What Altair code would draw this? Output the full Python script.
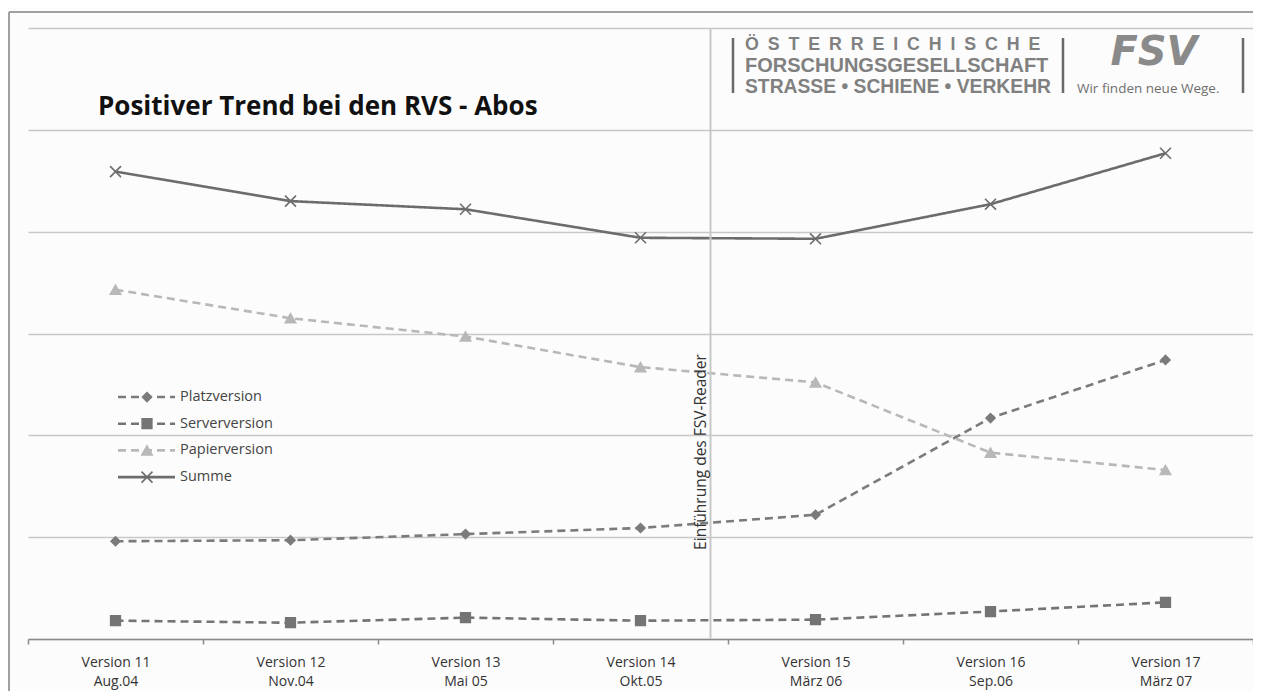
import altair as alt
import pandas as pd

# ---------------- data ----------------
categories = ["Version 11|Aug.04", "Version 12|Nov.04", "Version 13|Mai 05",
              "Version 14|Okt.05", "Version 15|März 06", "Version 16|Sep.06",
              "Version 17|März 07"]
series_names = ["Platzversion", "Serverversion", "Papierversion", "Summe"]
platz = [96, 97, 103, 109, 122, 217, 274]
server = [18, 16, 21, 18, 19, 27, 36]
papier = [343, 315, 297, 267, 252, 183, 166]
summe = [459, 430, 422, 394, 393, 427, 477]
y_grid_values = [0, 100, 200, 300, 400, 500, 600]
event_category = ["Version 14|Okt.05"]
event_label = ["Einführung des FSV-Reader"]
title_text = "Positiver Trend bei den RVS - Abos"
logo_row1 = "ÖSTERREICHISCHE"
logo_row2 = "FORSCHUNGSGESELLSCHAFT"
logo_row3 = "STRASSE • SCHIENE • VERKEHR"
logo_mark = "FSV"
logo_slogan = "Wir finden neue Wege."

rows = []
for name, vals in zip(series_names, [platz, server, papier, summe]):
    for c, v in zip(categories, vals):
        rows.append({"cat": c, "series": name, "value": v})
df = pd.DataFrame(rows)

W, H = 1225, 611

colors = ["#7b7b7b", "#747474", "#b8b8b8", "#6c6c6c"]
dashes = [[8, 5], [8, 5], [8, 5], [1, 0]]
shapes = ["diamond", "square", "triangle-up", "M-1,-1L1,1M-1,1L1,-1"]
sizes = [80, 120, 140, 100]

color_scale = alt.Scale(domain=series_names, range=colors)
dash_scale = alt.Scale(domain=series_names, range=dashes)
shape_scale = alt.Scale(domain=series_names, range=shapes)
size_scale = alt.Scale(domain=series_names, range=sizes)

x_scale = alt.Scale(type="band", paddingInner=0, paddingOuter=0)
x_axis = alt.Axis(title=None, labelExpr="split(datum.label, '|')", labelAngle=0,
                  labelFont="Open Sans", labelFontSize=14, labelColor="#333333",
                  labelLineHeight=19, labelPadding=11, tickBand="extent",
                  tickSize=5, tickColor="#8a8a8a", tickWidth=1.5,
                  domainColor="#8a8a8a", domainWidth=1.5, grid=False)
y_enc = alt.Y("value:Q", scale=alt.Scale(domain=[0, 600], nice=False, zero=True),
              axis=alt.Axis(values=y_grid_values, labels=False, ticks=False,
                            domain=False, title=None, grid=True,
                            gridColor="#c8c8c8", gridWidth=1.5))

x_main = alt.X("cat:N", sort=categories, scale=x_scale, bandPosition=0.5, axis=x_axis)
x_event = alt.X("cat:N", sort=categories, scale=x_scale, bandPosition=0.9)

base = alt.Chart(df)
lines = base.mark_line(strokeWidth=2.6).encode(
    x=x_main, y=y_enc,
    color=alt.Color("series:N", scale=color_scale, legend=None),
    strokeDash=alt.StrokeDash("series:N", scale=dash_scale, legend=None),
)
points = base.mark_point(filled=True, opacity=1, strokeWidth=1.6).encode(
    x=x_main, y="value:Q",
    shape=alt.Shape("series:N", scale=shape_scale, legend=None),
    fill=alt.Fill("series:N", scale=color_scale, legend=None),
    stroke=alt.Stroke("series:N", scale=color_scale, legend=None),
    size=alt.Size("series:O", scale=size_scale, legend=None),
)

# event annotation
ev = pd.DataFrame({"cat": event_category, "label": event_label})
ev_rule = alt.Chart(ev).mark_rule(color="#c8c8c8", strokeWidth=2).encode(x=x_event)
ev_text = alt.Chart(ev).mark_text(angle=270, align="center", baseline="alphabetic",
                                  dy=-5, font="Open Sans", fontSize=15.5,
                                  color="#333333").encode(
    x=x_event, y=alt.value(424), text="label:N")

# legend (positions derived from series order)
leg = pd.DataFrame({"series": series_names, "idx": list(range(len(series_names)))})
leg_base = alt.Chart(leg).transform_calculate(ly="237.6 - 26.2 * datum.idx")
leg_line = leg_base.mark_rule(strokeWidth=2.6).encode(
    x=alt.value(90), x2=alt.value(147), y=alt.Y("ly:Q"),
    color=alt.Color("series:N", scale=color_scale, legend=None),
    strokeDash=alt.StrokeDash("series:N", scale=dash_scale, legend=None))
leg_pt = leg_base.mark_point(filled=True, opacity=1, strokeWidth=1.6).encode(
    x=alt.value(119), y=alt.Y("ly:Q"),
    shape=alt.Shape("series:N", scale=shape_scale, legend=None),
    fill=alt.Fill("series:N", scale=color_scale, legend=None),
    stroke=alt.Stroke("series:N", scale=color_scale, legend=None),
    size=alt.Size("series:O", scale=size_scale, legend=None))
leg_txt = leg_base.mark_text(align="left", baseline="middle", font="Open Sans",
                             fontSize=14.5, color="#444444").encode(
    x=alt.value(152), y=alt.Y("ly:Q"), text="series:N")

# title
title = alt.Chart(pd.DataFrame({"t": [title_text]})).mark_text(
    align="left", baseline="alphabetic", font="Open Sans", fontWeight="bold",
    fontSize=26, color="#111111").encode(x=alt.value(70), y=alt.value(87), text="t:N")

# frame
frame_top = alt.Chart(pd.DataFrame({"a": [0]})).mark_rule(color="#a0a0a0", strokeWidth=2).encode(
    x=alt.value(-19), x2=alt.value(W + 10), y=alt.value(-16))
frame_left = alt.Chart(pd.DataFrame({"a": [0]})).mark_rule(color="#a0a0a0", strokeWidth=2).encode(
    x=alt.value(-19), y=alt.value(-16), y2=alt.value(H + 60))

# logo
logo_color = "#808080"
logo_df = pd.DataFrame({"r1": ["\u2002".join(logo_row1)], "r2": [logo_row2], "r3": [logo_row3],
                        "m": [logo_mark], "s": [logo_slogan]})
lb = alt.Chart(logo_df)
logo_layers = [
    lb.mark_rule(color="#6a6a6a", strokeWidth=2.5).encode(x=alt.value(705), y=alt.value(10), y2=alt.value(65)),
    lb.mark_rule(color="#6a6a6a", strokeWidth=2.5).encode(x=alt.value(1035), y=alt.value(10), y2=alt.value(65)),
    lb.mark_rule(color="#6a6a6a", strokeWidth=2.5).encode(x=alt.value(1215), y=alt.value(10), y2=alt.value(65)),
    lb.mark_text(align="left", baseline="middle", font="Liberation Sans", fontWeight="bold",
                 fontSize=17.8, color=logo_color).encode(x=alt.value(717), y=alt.value(17), text="r1:N"),
    lb.mark_text(align="left", baseline="middle", font="Liberation Sans", fontWeight="bold",
                 fontSize=20, color=logo_color).encode(x=alt.value(717), y=alt.value(38), text="r2:N"),
    lb.mark_text(align="left", baseline="middle", font="Liberation Sans", fontWeight="bold",
                 fontSize=19.3, color=logo_color).encode(x=alt.value(717), y=alt.value(59), text="r3:N"),
    lb.mark_text(align="center", baseline="middle", font="DejaVu Sans", fontWeight="bold",
                 fontStyle="italic", fontSize=40, color="#8a8a8a").encode(x=alt.value(1126), y=alt.value(25), text="m:N"),
    lb.mark_text(align="left", baseline="middle", font="Open Sans",
                 fontSize=13.5, color="#6f6f6f").encode(x=alt.value(1049), y=alt.value(61), text="s:N"),
]

chart = alt.layer(
    frame_top, frame_left, lines, ev_rule, points, ev_text,
    leg_line, leg_pt, leg_txt, title, *logo_layers
).properties(
    width=W, height=H,
    autosize=alt.AutoSizeParams(type="none"),
    padding={"left": 20, "top": 20, "right": 0, "bottom": 52},
    background="#fcfcfc",
).configure_view(stroke=None)

chart.save("out.html", embed_options={"renderer": "svg", "actions": False})
